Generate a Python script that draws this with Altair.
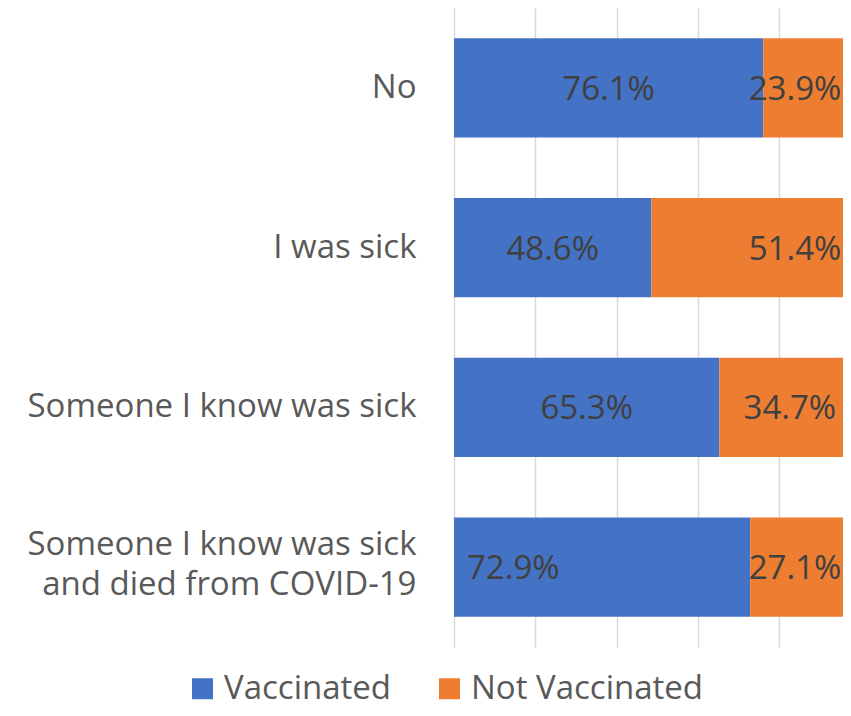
import altair as alt
import pandas as pd

categories = ["No", "I was sick", "Someone I know was sick",
              "Someone I know was sick and died from COVID-19"]
statuses = ["Vaccinated", "Not Vaccinated"]
vaccinated = [76.1, 48.6, 65.3, 72.9]
not_vaccinated = [23.9, 51.4, 34.7, 27.1]
colors = ["#4472C4", "#ED7D31"]

rows = []
for c, v, n in zip(categories, vaccinated, not_vaccinated):
    rows.append({"category": c, "status": statuses[0], "value": v, "so": 0})
    rows.append({"category": c, "status": statuses[1], "value": n, "so": 1})
df = pd.DataFrame(rows)

FONT = "Open Sans"
FS = 33
LAST = categories[3]

x_scale = alt.Scale(domain=[0, 95.74], nice=False, zero=True)
y_scale = alt.Scale(domain=categories, paddingInner=0.38, paddingOuter=0.19)

base = alt.Chart(df).transform_stack(
    stack="value", groupby=["category"], as_=["x0", "x1"],
    sort=[alt.SortField("so", order="ascending")]
).transform_calculate(
    mid="(datum.x0 + datum.x1) / 2",
    lab="format(datum.value, '.1f') + '%'"
)

bars = base.mark_bar(clip=True).encode(
    x=alt.X("x0:Q", scale=x_scale,
            axis=alt.Axis(values=[0, 20, 40, 60, 80], labels=False, ticks=False,
                          domain=False, grid=True, gridColor="#d9d9d9",
                          gridWidth=1.5, title=None)),
    x2="x1:Q",
    y=alt.Y("category:N", scale=y_scale, sort=categories,
            axis=alt.Axis(title=None, domain=False, ticks=False, labelPadding=38,
                          labelFont=FONT, labelFontSize=FS, labelColor="#595959",
                          labelLimit=0, labelLineHeight=40,
                          labelOffset={"condition": {"test": f"datum.value == '{LAST}'",
                                                     "value": -22}, "value": 0},
                          labelExpr="datum.label == '" + LAST + "' ? ['Someone I know was sick', 'and died from COVID-19'] : datum.label")),
    color=alt.Color("status:N", scale=alt.Scale(domain=statuses, range=colors),
                    legend=alt.Legend(title=None, orient="none", direction="horizontal",
                                      legendX=-268, legendY=664, padding=0,
                                      symbolType="square", symbolSize=441,
                                      symbolStrokeWidth=0, labelFont=FONT,
                                      labelFontSize=FS, labelColor="#595959",
                                      labelLimit=0,
                                      labelOffset=5, columnPadding=41)),
)

txt_kw = dict(font=FONT, fontSize=FS, color="#404040", baseline="middle")

lab_center_v = base.transform_filter(
    f"datum.status == 'Vaccinated' && datum.category != '{LAST}'"
).mark_text(align="center", dy=2, **txt_kw).encode(
    x=alt.X("mid:Q", scale=x_scale), y=alt.Y("category:N", scale=y_scale, sort=categories),
    text="lab:N")

lab_left_v = base.transform_filter(
    f"datum.status == 'Vaccinated' && datum.category == '{LAST}'"
).mark_text(align="left", dx=13, dy=2, **txt_kw).encode(
    x=alt.X("x0:Q", scale=x_scale), y=alt.Y("category:N", scale=y_scale, sort=categories),
    text="lab:N")

lab_center_n = base.transform_filter(
    f"datum.status == 'Not Vaccinated' && datum.category == '{categories[2]}'"
).mark_text(align="center", dy=2, **txt_kw).encode(
    x=alt.X("mid:Q", scale=x_scale), y=alt.Y("category:N", scale=y_scale, sort=categories),
    text="lab:N")

lab_end_n = base.transform_filter(
    f"datum.status == 'Not Vaccinated' && datum.category != '{categories[2]}'"
).mark_text(align="right", dx=-19, dy=2, **txt_kw).encode(
    x=alt.X("x1:Q", scale=x_scale), y=alt.Y("category:N", scale=y_scale, sort=categories),
    text="lab:N")

chart = alt.layer(bars, lab_center_v, lab_left_v, lab_center_n, lab_end_n).properties(
    width=389, height=639,
    autosize=alt.AutoSizeParams(type="none"),
    padding={"left": 446, "top": 0, "right": 0, "bottom": 61},
).configure_view(stroke=None)

chart.save("out.html", embed_options={"renderer": "svg", "actions": False})
